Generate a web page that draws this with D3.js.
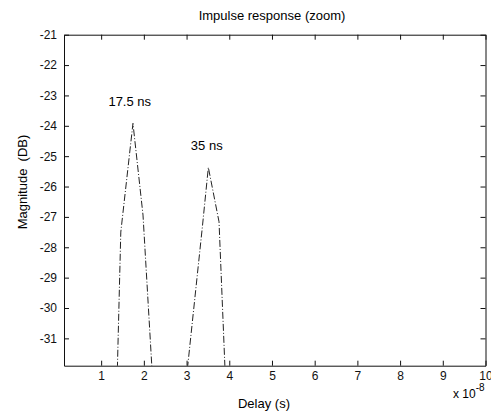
<!DOCTYPE html>
<html>
<head>
<meta charset="utf-8">
<script src="https://cdn.jsdelivr.net/npm/d3@7"></script>
<style>
  body { margin: 0; background: #fff; }
  svg { display: block; font-family: "Liberation Sans", Arial, Helvetica, sans-serif; }
</style>
</head>
<body>
<div id="graph"></div>
<script>
// delay in units of 1e-8 s, magnitude in dB
var peak1Delay = [1.38, 1.46, 1.745, 1.98, 2.19]
var peak1Mag = [-32, -27.5, -23.92, -26.94, -32]
var peak2Delay = [3.02, 3.37, 3.51, 3.76, 3.9]
var peak2Mag = [-32, -27.33, -25.37, -27.16, -32]

var xTicks = [1, 2, 3, 4, 5, 6, 7, 8, 9, 10]
var yTicks = [-21, -22, -23, -24, -25, -26, -27, -28, -29, -30, -31]

var annoText = ['17.5 ns', '35 ns']
var annoDelay = [1.17, 3.1]
var annoMag = [-23.35, -24.8]

var width = 491
var height = 415
var margin = { top: 34.7, right: 5.5, bottom: 49.3, left: 64 }
var innerW = width - margin.left - margin.right
var innerH = height - margin.top - margin.bottom

var svg = d3
  .select('#graph')
  .append('svg')
  .attr('width', width)
  .attr('height', height)

var g = svg
  .append('g')
  .attr('transform', 'translate(' + margin.left + ',' + margin.top + ')')

var x = d3.scaleLinear().domain([0.13, 10]).range([0, innerW])
var y = d3.scaleLinear().domain([-21, -31.9]).range([0, innerH])

// plain hyphen minus, like the original
var fmt = function(d) { return String(d) }

g.append('clipPath')
  .attr('id', 'clip')
  .append('rect')
  .attr('width', innerW)
  .attr('height', innerH)

// axes with inward ticks, like a matlab box
g.append('g')
  .attr('transform', 'translate(0,' + innerH + ')')
  .call(d3.axisBottom(x).tickValues(xTicks).tickFormat(fmt).tickSize(-5).tickPadding(6).tickSizeOuter(0))
g.append('g')
  .call(d3.axisTop(x).tickValues(xTicks).tickSize(-5).tickFormat('').tickSizeOuter(0))
g.append('g')
  .call(d3.axisLeft(y).tickValues(yTicks).tickFormat(fmt).tickSize(-5).tickPadding(7).tickSizeOuter(0))
g.append('g')
  .attr('transform', 'translate(' + innerW + ',0)')
  .call(d3.axisRight(y).tickValues(yTicks).tickSize(-5).tickFormat('').tickSizeOuter(0))

g.selectAll('.tick text')
  .style('font-size', '12px')
  .attr('fill', '#111')
g.selectAll('.domain, .tick line').attr('stroke', '#111')

var line = d3
  .line()
  .x(function(d) { return x(d[0]) })
  .y(function(d) { return y(d[1]) })

var series = [d3.zip(peak1Delay, peak1Mag), d3.zip(peak2Delay, peak2Mag)]

g.append('g')
  .attr('clip-path', 'url(#clip)')
  .selectAll('path')
  .data(series)
  .enter()
  .append('path')
  .attr('d', line)
  .attr('fill', 'none')
  .attr('stroke', '#222')
  .attr('stroke-width', 1)
  .attr('stroke-dasharray', '7,2,1,2')

g.selectAll('.anno')
  .data(d3.zip(annoText, annoDelay, annoMag))
  .enter()
  .append('text')
  .attr('class', 'anno')
  .attr('x', function(d) { return x(d[1]) })
  .attr('y', function(d) { return y(d[2]) })
  .style('font-size', '13px')
  .text(function(d) { return d[0] })

svg.append('text')
  .attr('x', 272)
  .attr('y', 20)
  .attr('text-anchor', 'middle')
  .style('font-size', '13px')
  .text('Impulse response (zoom)')

svg.append('text')
  .attr('x', 264)
  .attr('y', 408)
  .attr('text-anchor', 'middle')
  .style('font-size', '13px')
  .text('Delay (s)')

svg.append('text')
  .attr('transform', 'translate(27,182) rotate(-90)')
  .attr('text-anchor', 'middle')
  .style('font-size', '13px')
  .style('white-space', 'pre')
  .text('Magnitude  (DB)')

var expo = svg.append('text')
  .attr('x', 453)
  .attr('y', 398)
  .style('font-size', '12px')
expo.append('tspan').text('x 10')
expo.append('tspan').attr('dy', -7).style('font-size', '10px').text('-8')
</script>
</body>
</html>
